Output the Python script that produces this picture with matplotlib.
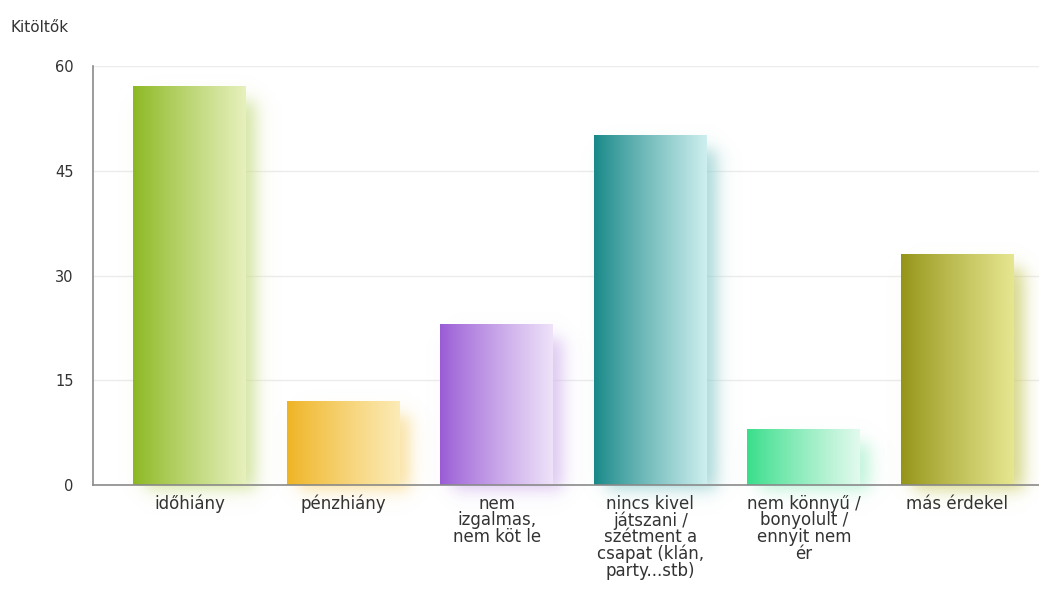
import numpy as np
import matplotlib
matplotlib.use("Agg")
import matplotlib.pyplot as plt
from matplotlib.colors import to_rgb

categories = ["időhiány", "pénzhiány", "nem\nizgalmas,\nnem köt le",
              "nincs kivel\njátszani /\nszétment a\ncsapat (klán,\nparty...stb)",
              "nem könnyű /\nbonyolult /\nennyit nem\nér", "más érdekel"]
values = [57, 12, 23, 50, 8, 33]
yticks = [0, 15, 30, 45, 60]
dark_colors = ["#8cb822", "#efb424", "#9a5cd6", "#188888", "#38de8a", "#949418"]
light_colors = ["#e6f0bc", "#fcebb6", "#eee2f9", "#cdeeee", "#e2faee", "#e6e690"]

W, H = 1039, 612
fig = plt.figure(figsize=(W / 100, H / 100), dpi=100)
left_px, bottom_px, top_px = 93, 485, 66
ax = fig.add_axes([left_px / W, 1 - bottom_px / H, 1 - left_px / W, (bottom_px - top_px) / H])

slot_px = 153.6
xmin = -96.5 / slot_px
xmax = xmin + (W - left_px) / slot_px
ax.set_xlim(xmin, xmax)
ax.set_ylim(0, 60)

px_x = 1 / slot_px
px_y = 60 / (bottom_px - top_px)
bw = 0.735

for y in yticks[1:]:
    ax.axhline(y, color="#ececec", lw=1, zorder=0)

def smooth(t):
    return 1 / (1 + np.exp(-t))

for i, (v, dc, lc) in enumerate(zip(values, dark_colors, light_colors)):
    x0, x1 = i - bw / 2, i + bw / 2
    # shadow
    sx0, sx1 = x0 + 12 * px_x, x1 + 10 * px_x
    sy0, sy1 = -5 * px_y, v - 14 * px_y
    pad_x, pad_y = 30 * px_x, 30 * px_y
    ex0, ex1, ey0, ey1 = sx0 - pad_x, sx1 + pad_x, sy0 - pad_y, sy1 + pad_y
    nx, ny = 200, 300
    xs = np.linspace(ex0, ex1, nx)
    ys = np.linspace(ey1, ey0, ny)
    s = 5.0
    ax_ = smooth((xs - sx0) / (s * px_x)) * smooth((sx1 - xs) / (s * px_x))
    ay_ = smooth((ys - sy0) / (s * px_y)) * smooth((sy1 - ys) / (s * px_y))
    alpha = np.outer(ay_, ax_) * 0.8
    sc = np.array(to_rgb(lc)) * 0.7 + np.array(to_rgb(dc)) * 0.3
    rgba = np.zeros((ny, nx, 4))
    rgba[..., :3] = sc
    rgba[..., 3] = alpha
    im = ax.imshow(rgba, extent=[ex0, ex1, ey0, ey1], aspect="auto", zorder=1,
                   interpolation="bilinear")
    im.set_clip_on(False)
    # bar gradient
    t = np.linspace(0, 1, 100)
    t = t ** 0.9
    c0, c1 = np.array(to_rgb(dc)), np.array(to_rgb(lc))
    grad = (c0[None, :] * (1 - t[:, None]) + c1[None, :] * t[:, None])[None, :, :]
    ax.imshow(grad, extent=[x0, x1, 0, v], aspect="auto", zorder=2,
              interpolation="bilinear")

ax.set_xlim(xmin, xmax)
ax.set_ylim(0, 60)

for sp in ["top", "right"]:
    ax.spines[sp].set_visible(False)
for sp in ["left", "bottom"]:
    ax.spines[sp].set_color("#8a8a8a")
    ax.spines[sp].set_linewidth(1.2)
    ax.spines[sp].set_zorder(3)

ax.set_yticks(yticks)
ax.set_yticklabels([str(y) for y in yticks], fontsize=10.5, color="#333333")
ax.tick_params(axis="y", length=0, pad=14)
ax.set_xticks(range(len(categories)))
ax.set_xticklabels(categories, fontsize=12, color="#333333", linespacing=0.9,
                   va="top", ha="center")
ax.tick_params(axis="x", length=0, pad=7)

fig.text(10 / W, 1 - 27 / H, "Kitöltők", fontsize=11, color="#333333",
         ha="left", va="center")

fig.savefig("out.png", dpi=100)
